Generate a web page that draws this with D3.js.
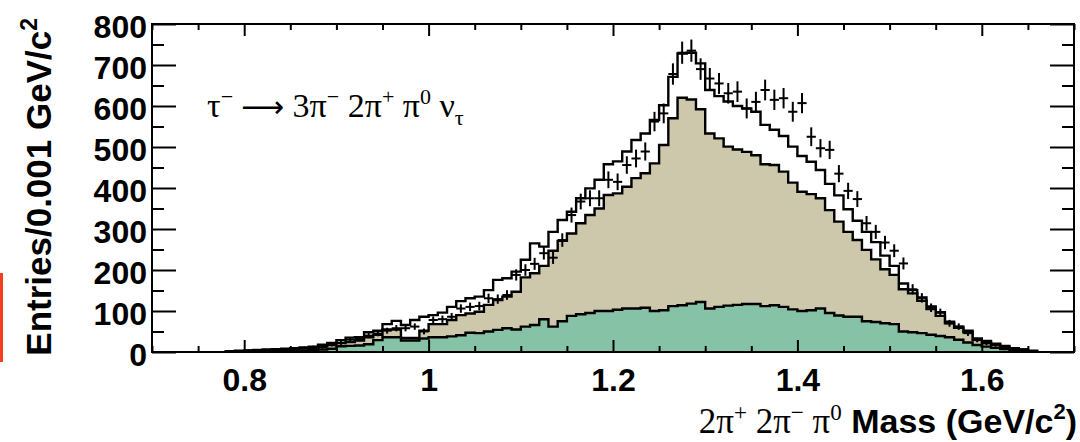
<!DOCTYPE html>
<html>
<head>
<meta charset="utf-8">
<script src="https://cdn.jsdelivr.net/npm/d3@7"></script>
<style>
  html, body { margin: 0; padding: 0; background: #ffffff; }
  svg { display: block; }
</style>
</head>
<body>
<svg id="chart" width="1080" height="442"></svg>
<script>
// Histogram binning: 0.01 GeV/c^2 bins starting at 0.78
const binStart = 0.78;
const binWidth = 0.01;

// Background component 1 (green), entries per bin
const greenBkg = [0,0,1,1,2,2,3,3,4,5,6,8,
  14,15,16,19,29,36,36,28,28,33,
  36,36,38,41,47,46,50,54,58,55,
  62,66,80,62,75,88,92,95,100,100,
  103,106,106,108,100,102,112,114,118,122,
  106,110,113,115,117,117,112,114,110,104,
  100,102,106,95,89,86,86,75,73,70,
  68,50,48,46,42,39,36,30,23,17,
  13,10,7,5,3,1];

// Background component 2 (tan), entries per bin
const tanBkg = [1,2,2,2,2,3,3,4,5,5,8,9,
  8,9,12,17,13,19,19,6,6,19,
  32,32,40,49,47,52,65,73,77,92,
  120,126,130,185,196,201,222,239,250,283,
  284,297,318,328,360,403,458,506,498,470,
  427,411,388,379,371,363,346,342,330,309,
  291,283,269,251,229,207,187,174,153,132,
  120,103,95,79,63,49,34,29,25,13,
  10,7,4,3,2,1];

// Signal component (open histogram on top of the stack)
const signalMC = [1,1,1,2,2,2,2,2,2,3,4,5,
  7,11,8,12,10,13,21,32,44,34,
  22,28,32,34,37,37,36,49,45,49,
  43,73,47,46,51,53,61,65,70,75,
  78,86,93,97,106,97,101,108,114,112,
  106,103,110,106,106,106,96,86,87,88,
  87,79,69,64,64,55,47,44,42,33,
  22,14,8,8,6,9,4,3,4,3,
  4,3,4,1,1,1];

// Observed data, entries per bin
const dataCounts = [1,2,3,4,5,6,7,8,10,12,12,18,
  22,30,32,40,45,52,58,58,62,50,
  78,80,86,106,110,112,131,129,139,188,
  200,215,241,230,273,334,367,375,375,420,
  415,456,472,489,562,582,678,730,735,690,
  667,655,631,635,594,610,639,615,619,586,
  607,525,497,493,435,393,373,314,293,267,
  247,216,153,132,108,96,70,62,46,29,
  21,17,13,9,6,2];

// Axis ticks
const xMajorTicks = [0.8, 1.0, 1.2, 1.4, 1.6];
const xTickLabels = ["0.8", "1", "1.2", "1.4", "1.6"];
const yMajorTicks = [0, 100, 200, 300, 400, 500, 600, 700, 800];

// ---------------------------------------------------------------
const svg = d3.select("#chart");
const frame = { left: 152, right: 1074, top: 24, bottom: 352 };

const x = d3.scaleLinear().domain([0.7, 1.7]).range([frame.left, frame.right]);
const y = d3.scaleLinear().domain([0, 800]).range([frame.bottom, frame.top]);

const bins = greenBkg.map((g, i) => {
  const x0 = +(binStart + i * binWidth).toFixed(3);
  return { x0, x1: +(x0 + binWidth).toFixed(3), green: g, tan: tanBkg[i], signal: signalMC[i], data: dataCounts[i] };
});

const stacked = d3.stack().keys(["green", "tan", "signal"])(bins);

const sansBold = "'Liberation Sans', Arial, Helvetica, sans-serif";
const serif = "'Liberation Serif', 'Times New Roman', Times, serif";

const fills = { green: "#86c3a6", tan: "#cdc7ab", signal: "#ffffff" };

// Step outline points for a cumulative histogram
function stepPoints(layer) {
  const pts = layer.map((d, i) => [bins[i].x0, d[1]]);
  const last = bins[bins.length - 1];
  pts.push([last.x1, layer[layer.length - 1][1]]);
  return pts;
}

const area = d3.area()
  .curve(d3.curveStepAfter)
  .x(d => x(d[0]))
  .y0(y(0))
  .y1(d => y(d[1]));

const line = d3.line()
  .curve(d3.curveStepAfter)
  .x(d => x(d[0]))
  .y(d => y(d[1]));

svg.append("defs").append("clipPath").attr("id", "plotClip")
  .append("rect")
  .attr("x", frame.left).attr("y", frame.top)
  .attr("width", frame.right - frame.left).attr("height", frame.bottom - frame.top);

const plot = svg.append("g").attr("clip-path", "url(#plotClip)");

// Draw cumulative histograms from the outermost down
stacked.slice().reverse().forEach(layer => {
  const pts = stepPoints(layer);
  plot.append("path")
    .attr("d", area(pts))
    .attr("fill", fills[layer.key]);
  const outline = [[pts[0][0], 0], ...pts, [pts[pts.length - 1][0], 0]];
  plot.append("path")
    .attr("d", line(outline))
    .attr("fill", "none")
    .attr("stroke", "#000")
    .attr("stroke-width", 2.4)
    .attr("stroke-linejoin", "miter");
});

// Data points with statistical error bars
const pts = plot.append("g").attr("stroke", "#000").attr("stroke-width", 2);
bins.filter(d => d.data > 0).forEach(d => {
  const err = Math.sqrt(d.data);
  const xc = x((d.x0 + d.x1) / 2);
  pts.append("line")
    .attr("x1", x(d.x0)).attr("x2", x(d.x1))
    .attr("y1", y(d.data)).attr("y2", y(d.data));
  pts.append("line")
    .attr("x1", xc).attr("x2", xc)
    .attr("y1", y(d.data - err)).attr("y2", y(d.data + err));
});

// Axes (ticks pointing inward on all four sides)
const xMinor = d3.range(0.7, 1.7001, 0.05).map(v => +v.toFixed(3)).filter(v => !xMajorTicks.some(t => Math.abs(t - v) < 1e-6));
const yMinor = d3.range(50, 800, 100);

function styleAxis(g) {
  g.select(".domain").remove();
  g.selectAll(".tick line").attr("stroke", "#000").attr("stroke-width", 2);
}

svg.append("g").attr("transform", `translate(0,${frame.bottom})`)
  .call(d3.axisBottom(x).tickValues(xMinor).tickSize(-6).tickFormat(""))
  .call(styleAxis);
const xAxis = svg.append("g").attr("transform", `translate(0,${frame.bottom})`)
  .call(d3.axisBottom(x).tickValues(xMajorTicks).tickSize(-12).tickPadding(16)
    .tickFormat((d, i) => xTickLabels[i]))
  .call(styleAxis);
xAxis.selectAll("text")
  .attr("font-family", sansBold).attr("font-weight", "bold").attr("font-size", 32)
  .attr("fill", "#000");

svg.append("g").attr("transform", `translate(0,${frame.top})`)
  .call(d3.axisTop(x).tickValues(xMinor).tickSize(-6).tickFormat(""))
  .call(styleAxis);
svg.append("g").attr("transform", `translate(0,${frame.top})`)
  .call(d3.axisTop(x).tickValues(xMajorTicks).tickSize(-12).tickFormat(""))
  .call(styleAxis);

svg.append("g").attr("transform", `translate(${frame.left},0)`)
  .call(d3.axisLeft(y).tickValues(yMinor).tickSize(-12).tickFormat(""))
  .call(styleAxis);
const yAxis = svg.append("g").attr("transform", `translate(${frame.left},0)`)
  .call(d3.axisLeft(y).tickValues(yMajorTicks).tickSize(-24).tickPadding(5))
  .call(styleAxis);
yAxis.selectAll("text")
  .attr("font-family", sansBold).attr("font-weight", "bold").attr("font-size", 32)
  .attr("dy", "0.42em").attr("fill", "#000");

svg.append("g").attr("transform", `translate(${frame.right},0)`)
  .call(d3.axisRight(y).tickValues(yMinor).tickSize(-12).tickFormat(""))
  .call(styleAxis);
svg.append("g").attr("transform", `translate(${frame.right},0)`)
  .call(d3.axisRight(y).tickValues(yMajorTicks).tickSize(-24).tickFormat(""))
  .call(styleAxis);

// Frame
svg.append("rect")
  .attr("x", frame.left).attr("y", frame.top)
  .attr("width", frame.right - frame.left).attr("height", frame.bottom - frame.top)
  .attr("fill", "none").attr("stroke", "#000").attr("stroke-width", 2);

// Y-axis title
const yTitle = svg.append("text")
  .attr("transform", "translate(51,18) rotate(-90)")
  .attr("text-anchor", "end")
  .attr("font-family", sansBold).attr("font-weight", "bold").attr("font-size", 35)
  .attr("fill", "#000");
yTitle.append("tspan").text("Entries/0.001 GeV/c");
yTitle.append("tspan").attr("font-size", 23).attr("dy", -14).text("2");

// X-axis title
const xTitle = svg.append("text")
  .attr("x", 1077).attr("y", 433)
  .attr("text-anchor", "end")
  .attr("fill", "#000");
function part(t, txt, opts) {
  const s = t.append("tspan").text(txt);
  s.attr("font-family", opts.family).attr("font-size", opts.size);
  if (opts.bold) s.attr("font-weight", "bold");
  if (opts.dy) s.attr("dy", opts.dy);
  if (opts.dx) s.attr("dx", opts.dx);
  return s;
}
part(xTitle, "2π", { family: serif, size: 35 });
part(xTitle, "+", { family: serif, size: 23, dy: -13 });
part(xTitle, " 2π", { family: serif, size: 35, dy: 13 });
part(xTitle, "−", { family: serif, size: 23, dy: -13 });
part(xTitle, " π", { family: serif, size: 35, dy: 13 });
part(xTitle, "0", { family: serif, size: 23, dy: -13 });
part(xTitle, " Mass (GeV/c", { family: sansBold, size: 34, bold: true, dy: 13 });
part(xTitle, "2", { family: sansBold, size: 22, bold: true, dy: -14 });
part(xTitle, ")", { family: sansBold, size: 34, bold: true, dy: 14 });

// Decay-channel label
const label = svg.append("text")
  .attr("x", 207).attr("y", 117)
  .attr("fill", "#000");
part(label, "τ", { family: serif, size: 34 });
part(label, "−", { family: serif, size: 22, dy: -13 });
part(label, "⟶", { family: "'DejaVu Sans', " + serif, size: 30, dy: 13, dx: 8 });
part(label, " 3π", { family: serif, size: 34 });
part(label, "−", { family: serif, size: 22, dy: -13 });
part(label, " 2π", { family: serif, size: 34, dy: 13 });
part(label, "+", { family: serif, size: 22, dy: -13 });
part(label, " π", { family: serif, size: 34, dy: 13 });
part(label, "0", { family: serif, size: 22, dy: -13 });
part(label, " ν", { family: serif, size: 34, dy: 13 });
part(label, "τ", { family: serif, size: 22, dy: 8 });

// Red margin marker at the left edge
svg.append("rect")
  .attr("x", 0).attr("y", 273).attr("width", 3).attr("height", 89)
  .attr("fill", "#f2401f");
</script>
</body>
</html>
